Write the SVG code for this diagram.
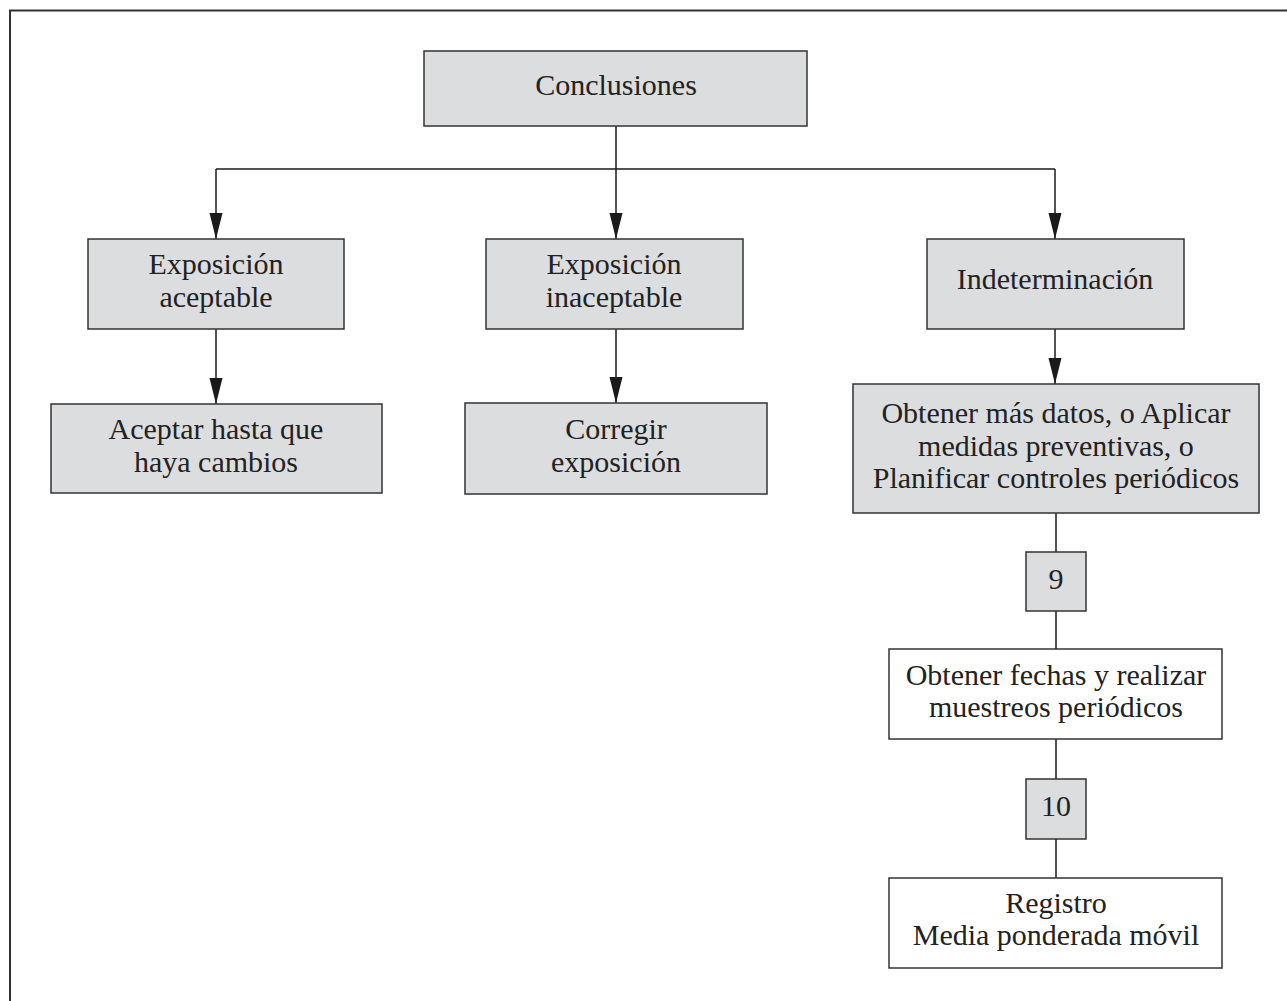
<svg xmlns="http://www.w3.org/2000/svg" width="1287" height="1001" viewBox="0 0 1287 1001">
<style>
.box{fill:#dcdddf;stroke:#333;stroke-width:1.5}
.wbox{fill:#fff;stroke:#333;stroke-width:1.5}
.t{font-family:"Liberation Serif","Times New Roman",serif;font-size:30px;fill:#222;text-anchor:middle}
.ln{fill:none;stroke:#1a1a1a;stroke-width:1.5}
</style>
<defs>
<marker id="arr" markerUnits="userSpaceOnUse" markerWidth="14" markerHeight="28" refX="7" refY="26" orient="auto-start-reverse" viewBox="0 0 14 28">
<path d="M0.5,0 L13.5,0 L7,26 Z" fill="#1a1a1a" transform="rotate(0)"/>
</marker>
<marker id="ar" markerUnits="userSpaceOnUse" markerWidth="28" markerHeight="14" refX="26" refY="7" orient="auto" viewBox="0 0 28 14">
<path d="M0,0.5 L26,7 L0,13.5 Z" fill="#1a1a1a"/>
</marker>
</defs>
<rect width="1287" height="1001" fill="#fff"/>
<path d="M10,1001 V10.5 H1287" fill="none" stroke="#333" stroke-width="2"/>
<g id="connectors">
<path class="ln" d="M616,126 V169"/>
<path class="ln" d="M216,169 H1055"/>
<path class="ln" d="M216,169 V239" marker-end="url(#ar)"/>
<path class="ln" d="M616,169 V239" marker-end="url(#ar)"/>
<path class="ln" d="M1055,169 V239" marker-end="url(#ar)"/>
<path class="ln" d="M216,329 V404" marker-end="url(#ar)"/>
<path class="ln" d="M616,329 V403" marker-end="url(#ar)"/>
<path class="ln" d="M1055,329 V384" marker-end="url(#ar)"/>
<path class="ln" d="M1056,513 V552"/>
<path class="ln" d="M1056,611 V649"/>
<path class="ln" d="M1056,739 V779"/>
<path class="ln" d="M1056,839 V878"/>
</g>
<g id="n-conclusiones">
<rect class="box" x="424" y="51" width="383" height="75"/>
<text class="t" x="616" y="95">Conclusiones</text>
</g>
<g id="n-aceptable">
<rect class="box" x="88" y="239" width="256" height="90"/>
<text class="t" x="216" y="274">Exposición</text>
<text class="t" x="216" y="307">aceptable</text>
</g>
<g id="n-inaceptable">
<rect class="box" x="486" y="239" width="257" height="90"/>
<text class="t" x="614" y="274">Exposición</text>
<text class="t" x="614" y="307">inaceptable</text>
</g>
<g id="n-indeterminacion">
<rect class="box" x="927" y="239" width="257" height="90"/>
<text class="t" x="1055" y="289">Indeterminación</text>
</g>
<g id="n-aceptar">
<rect class="box" x="51" y="404" width="331" height="89"/>
<text class="t" x="216" y="439">Aceptar hasta que</text>
<text class="t" x="216" y="472">haya cambios</text>
</g>
<g id="n-corregir">
<rect class="box" x="465" y="403" width="302" height="91"/>
<text class="t" x="616" y="439">Corregir</text>
<text class="t" x="616" y="472">exposición</text>
</g>
<g id="n-obtener-datos">
<rect class="box" x="853" y="384" width="406" height="129"/>
<text class="t" x="1056" y="423">Obtener más datos, o Aplicar</text>
<text class="t" x="1056" y="456">medidas preventivas, o</text>
<text class="t" x="1056" y="488">Planificar controles periódicos</text>
</g>
<g id="n-9">
<rect class="box" x="1026" y="552" width="60" height="59"/>
<text class="t" x="1056" y="589">9</text>
</g>
<g id="n-fechas">
<rect class="wbox" x="889" y="649" width="333" height="90"/>
<text class="t" x="1056" y="685">Obtener fechas y realizar</text>
<text class="t" x="1056" y="717">muestreos periódicos</text>
</g>
<g id="n-10">
<rect class="box" x="1026" y="779" width="60" height="60"/>
<text class="t" x="1056" y="816">10</text>
</g>
<g id="n-registro">
<rect class="wbox" x="889" y="878" width="333" height="90"/>
<text class="t" x="1056" y="913">Registro</text>
<text class="t" x="1056" y="945">Media ponderada móvil</text>
</g>
</svg>
